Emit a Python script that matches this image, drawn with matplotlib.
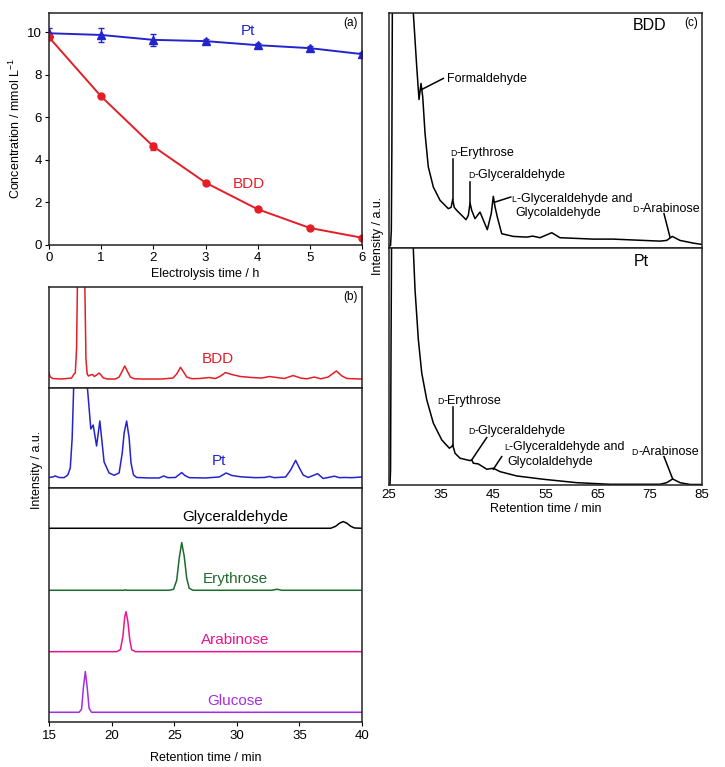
import matplotlib
matplotlib.use("Agg")
import matplotlib.pyplot as plt

plt.rcParams['font.family'] = ['Liberation Sans', 'DejaVu Sans']
plt.rcParams['font.size'] = 9
plt.rcParams['xtick.labelsize'] = 9.5
plt.rcParams['ytick.labelsize'] = 9.5

# (a) concentration vs electrolysis time
time_h = [0, 1, 2, 3, 4, 5, 6]
pt_conc = [9.95, 9.87, 9.64, 9.58, 9.39, 9.25, 8.97]
pt_err = [0.23, 0.31, 0.27, 0.12, 0.08, 0.08, 0.08]
bdd_conc = [9.76, 6.98, 4.63, 2.93, 1.68, 0.80, 0.34]
bdd_err = [0.08, 0.08, 0.15, 0.06, 0.06, 0.06, 0.06]

# (b) chromatograms, retention time (min) and intensity (a.u.)
b_bdd_t = [15.0, 15.1, 15.3, 16.0, 16.8, 17.0, 17.1, 17.2, 17.27, 17.55, 17.86, 17.95,
           18.05, 18.15, 18.3, 18.47, 18.62, 18.8, 19.0, 19.15, 19.35, 19.7, 20.3, 20.6,
           20.85, 21.05, 21.25, 21.5, 21.8, 22.5, 24.0, 24.9, 25.2, 25.5, 25.75, 26.0,
           26.4, 27.0, 27.8, 28.3, 28.7, 29.1, 29.6, 30.3, 31.2, 32.0, 32.6, 33.2, 33.8,
           34.5, 35.1, 35.6, 36.2, 36.7, 37.3, 37.95, 38.4, 38.8, 40.0]
b_bdd_i = [6, 2, 0.5, 0, 1, 5, 6, 30, 95, 200, 95, 20,
           5, 3, 4, 4.5, 2.5, 4, 6, 4, 1, 0, 0, 2,
           8, 13, 8, 2, 0.3, 0, 0, 1, 5, 11.7, 7, 2,
           0.3, 0.5, 1.5, 0.5, 3, 6.5, 4.5, 2.5, 1.5, 1, 2.5, 1.5, 0.5,
           3.5, 1, 0.2, 2, 0.2, 2, 8, 3, 0.5, 0]

b_pt_t = [15.0, 15.3, 15.5, 15.8, 16.2, 16.5, 16.7, 16.85, 16.98, 17.3, 17.8, 18.07,
          18.34, 18.53, 18.8, 19.06, 19.4, 19.8, 20.2, 20.6, 20.85, 21.0, 21.2, 21.4,
          21.55, 21.75, 22.0, 23.0, 23.8, 24.16, 24.5, 25.1, 25.4, 25.6, 25.85, 26.2,
          27.5, 28.6, 29.15, 29.6, 30.3, 31.5, 32.2, 32.6, 33.0, 33.9, 34.3, 34.7,
          35.0, 35.3, 35.7, 36.1, 36.45, 36.9, 37.3, 37.8, 38.2, 38.6, 39.2, 40.0]
b_pt_i = [0.5, 1, 2, 0.5, 0.3, 3, 10, 40, 95, 150, 120, 90,
          49, 53, 32, 57, 16, 5, 2.7, 5, 25, 45, 57, 40,
          15, 3, 0.5, 0, 0, 2, 0.3, 0.5, 3.5, 5.4, 2.5, 0.3,
          0, 1, 5, 2.5, 1.2, 0.3, 0.5, 1.5, 0.3, 1, 8, 17.6,
          10, 3, 0.5, 2.5, 4.3, -0.5, 0.5, 1.8, 0.3, 0.5, 0.3, 1]

gly_t = [15.0, 37.5, 37.9, 38.2, 38.5, 38.8, 39.1, 39.4, 40.0]
gly_i = [0, 0, 2, 5, 6.7, 5, 2, 0.3, 0]
ery_t = [15.0, 21.0, 21.1, 21.2, 24.6, 24.95, 25.2, 25.4, 25.6, 25.8, 26.0, 26.2, 26.5,
         32.8, 33.2, 33.6, 40.0]
ery_i = [0, 0, 0.5, 0, 0, 1, 10, 32, 47.7, 34, 12, 2, 0, 0, 1, 0, 0]
ara_t = [15.0, 20.4, 20.7, 20.9, 21.05, 21.15, 21.3, 21.45, 21.6, 21.9, 40.0]
ara_i = [0, 0, 2, 15, 35, 40, 30, 12, 2, 0, 0]
glu_t = [15.0, 17.4, 17.6, 17.75, 17.9, 18.05, 18.2, 18.4, 40.0]
glu_i = [0, 0, 3, 25, 40.7, 25, 4, 0, 0]

# (c) long chromatograms
c_bdd_t = [25.0, 25.29, 25.44, 25.54, 25.63, 26.0, 29.3, 29.66, 30.31, 30.75, 31.13, 31.46,
           31.9, 32.53, 33.49, 34.78, 36.37, 36.9, 37.21, 37.5, 37.98, 39.76, 40.2, 40.53,
           40.85, 41.48, 42.44, 43.84, 44.6, 44.99, 45.3, 45.76, 46.6, 48.83, 51.39,
           52.54, 53.94, 56.19, 57.78, 64.1, 67.94, 76.95, 78.23, 79.3, 80.78, 83.33, 85.0]
c_bdd_i = [2, 3, 18, 98, 235, 300, 300, 234.7, 181.3, 148.7, 164.7, 151.3,
           115, 81.3, 61.3, 48, 39.7, 41, 49, 41, 38, 28.7, 33, 45.3,
           38, 29.7, 36.3, 18.7, 35, 52, 42, 31.3, 14.7, 12, 11.3,
           12.3, 10.7, 15.7, 10.7, 9.3, 9.3, 7.3, 8, 12, 8, 5.3, 4]

c_pt_t = [25.0, 25.19, 25.29, 25.38, 25.48, 26.0, 29.3, 29.66, 29.98, 30.62, 31.27, 32.23,
          33.49, 35.1, 36.56, 37.02, 37.21, 37.65, 38.61, 40.53, 40.85, 41.16, 42.12,
          43.73, 44.99, 46.28, 49.48, 54.58, 60.98, 67.36, 76.95, 78.23, 79.38, 80.78,
          82.7, 85.0]
c_pt_i = [0, 1, 15, 135, 236, 300, 300, 235, 195, 145, 111.7, 85,
          61.7, 45, 36.7, 38.3, 40, 31.7, 26.7, 24.3, 25, 21.7, 21,
          15.7, 16.7, 13.3, 9, 5.7, 2.3, 0.7, 0.7, 2.3, 6, 2.3,
          0.5, 0.5]

red = '#e41e26'
blue = '#2424cc'

fig = plt.figure(figsize=(7.25, 7.67), dpi=100)


def frame(ax):
    for s in ax.spines.values():
        s.set_linewidth(1.1)
        s.set_color('#222222')


# ---------------- (a)
ax_a = fig.add_axes([0.0676, 0.6806, 0.4317, 0.3024])
ax_a.errorbar(time_h, pt_conc, yerr=pt_err, color=blue, marker='^', ms=5.5,
              lw=1.4, capsize=2, elinewidth=1)
ax_a.errorbar(time_h, bdd_conc, yerr=bdd_err, color=red, marker='o', ms=5,
              lw=1.4, capsize=2, elinewidth=1)
ax_a.set_xlim(0, 6)
ax_a.set_ylim(0, 10.9)
ax_a.set_xticks(range(0, 7))
ax_a.set_yticks(range(0, 11, 2))
ax_a.tick_params(length=3, width=0.8, pad=2)
ax_a.set_xlabel('Electrolysis time / h', labelpad=3)
ax_a.set_ylabel('Concentration / mmol L$^{\\mathregular{-1}}$', labelpad=3)
ax_a.text(3.82, 10.05, 'Pt', color=blue, fontsize=11, ha='center', va='center')
ax_a.text(3.83, 2.85, 'BDD', color=red, fontsize=11, ha='center', va='center')
ax_a.text(0.985, 0.955, '(a)', transform=ax_a.transAxes, ha='right', va='center', fontsize=8.5)
frame(ax_a)

# ---------------- (b)
ax_b1 = fig.add_axes([0.0676, 0.4941, 0.4317, 0.1317])
ax_b2 = fig.add_axes([0.0676, 0.3638, 0.4317, 0.1303])
ax_b3 = fig.add_axes([0.0676, 0.0587, 0.4317, 0.3051])

ax_b1.plot(b_bdd_t, b_bdd_i, color=red, lw=1.1)
ax_b1.set_ylim(-9, 92)
ax_b1.text(28.5, 20, 'BDD', color=red, fontsize=11, ha='center', va='center')
ax_b1.text(0.985, 0.9, '(b)', transform=ax_b1.transAxes, ha='right', va='center', fontsize=8.5)

ax_b2.plot(b_pt_t, b_pt_i, color=blue, lw=1.1)
ax_b2.set_ylim(-10, 90)
ax_b2.text(28.6, 17, 'Pt', color=blue, fontsize=11, ha='center', va='center')

standards = [('Glyceraldehyde', gly_t, gly_i, 'black', 193.7),
             ('Erythrose', ery_t, ery_i, '#1d6b2c', 131.7),
             ('Arabinose', ara_t, ara_i, '#e8168c', 70.3),
             ('Glucose', glu_t, glu_i, '#a52ce0', 9.7)]
for name, t, i, col, off in standards:
    ax_b3.plot(t, [v + off for v in i], color=col, lw=1.1)
    ax_b3.text(29.9, off + 11.5, name, color=col, fontsize=11, ha='center', va='center')
ax_b3.set_ylim(0, 234)

for ax in (ax_b1, ax_b2, ax_b3):
    ax.set_xlim(15, 40)
    ax.set_yticks([])
    frame(ax)
for ax in (ax_b1, ax_b2):
    ax.set_xticks([])
ax_b3.set_xticks(range(15, 41, 5))
ax_b3.tick_params(length=3, width=0.8, pad=3)
ax_b3.set_xlabel('Retention time / min', labelpad=7)
fig.text(0.051, 0.387, 'Intensity / a.u.', rotation=90, ha='center', va='center')

# ---------------- (c)
ax_c1 = fig.add_axes([0.5366, 0.6761, 0.4317, 0.3069])
ax_c2 = fig.add_axes([0.5366, 0.3677, 0.4317, 0.3084])

ax_c1.plot(c_bdd_t, c_bdd_i, color='black', lw=1.1)
ax_c1.set_ylim(0, 235)
ax_c2.plot(c_pt_t, c_pt_i, color='black', lw=1.1)
ax_c2.set_ylim(0, 236)

for ax in (ax_c1, ax_c2):
    ax.set_xlim(25, 85)
    ax.set_yticks([])
    frame(ax)
ax_c1.set_xticks([])
ax_c2.set_xticks(range(25, 86, 10))
ax_c2.tick_params(length=0, pad=3)
ax_c2.set_xlabel('Retention time / min', labelpad=1)
fig.text(0.5214, 0.693, 'Intensity / a.u.', rotation=90, ha='center', va='center')

ax_c1.text(74.9, 223, 'BDD', fontsize=11.5, ha='center', va='center')
ax_c1.text(83.0, 224.7, '(c)', fontsize=8.5, ha='center', va='center')
ax_c2.text(73.3, 223.3, 'Pt', fontsize=11.5, ha='center', va='center')


def label(ax, x, y, prefix, rest):
    # small-caps D / L prefix followed by the name
    if prefix:
        ax.text(x, y, prefix, fontsize=6.3, ha='left', va='baseline')
        gap = 4.7 if prefix == 'D' else 3.7
        ax.annotate(rest, (x, y), xytext=(gap, 0), textcoords='offset points',
                    ha='left', va='baseline', fontsize=9)
    else:
        ax.text(x, y, rest, fontsize=9, ha='left', va='baseline')


def leader(ax, x0, y0, x1, y1):
    ax.plot([x0, x1], [y0, y1], color='black', lw=1.1)


# BDD annotations
leader(ax_c1, 31.27, 158.7, 35.41, 169.7)
label(ax_c1, 36.06, 166.5, '', 'Formaldehyde')
leader(ax_c1, 37.21, 89.7, 37.21, 49)
label(ax_c1, 36.69, 92.5, 'D', '-Erythrose')
leader(ax_c1, 40.53, 66.3, 40.53, 45.3)
label(ax_c1, 40.2, 70.5, 'D', '-Glyceraldehyde')
leader(ax_c1, 45.32, 46.3, 48.33, 51.3)
label(ax_c1, 48.52, 46.5, 'L', '-Glyceraldehyde and')
label(ax_c1, 49.15, 32.5, '', 'Glycolaldehyde')
leader(ax_c1, 77.71, 34.7, 78.86, 11.3)
label(ax_c1, 71.71, 36, 'D', '-Arabinose')

# Pt annotations
leader(ax_c2, 37.21, 77.3, 37.21, 40)
label(ax_c2, 34.26, 80.5, 'D', '-Erythrose')
leader(ax_c2, 43.73, 47.3, 40.85, 25)
label(ax_c2, 40.2, 51, 'D', '-Glyceraldehyde')
leader(ax_c2, 46.6, 28.3, 44.99, 15.7)
label(ax_c2, 47.04, 34.5, 'L', '-Glyceraldehyde and')
label(ax_c2, 47.68, 19.5, '', 'Glycolaldehyde')
leader(ax_c2, 77.71, 28.3, 79.38, 6)
label(ax_c2, 71.52, 29.5, 'D', '-Arabinose')

plt.savefig('out.png', dpi=100)
